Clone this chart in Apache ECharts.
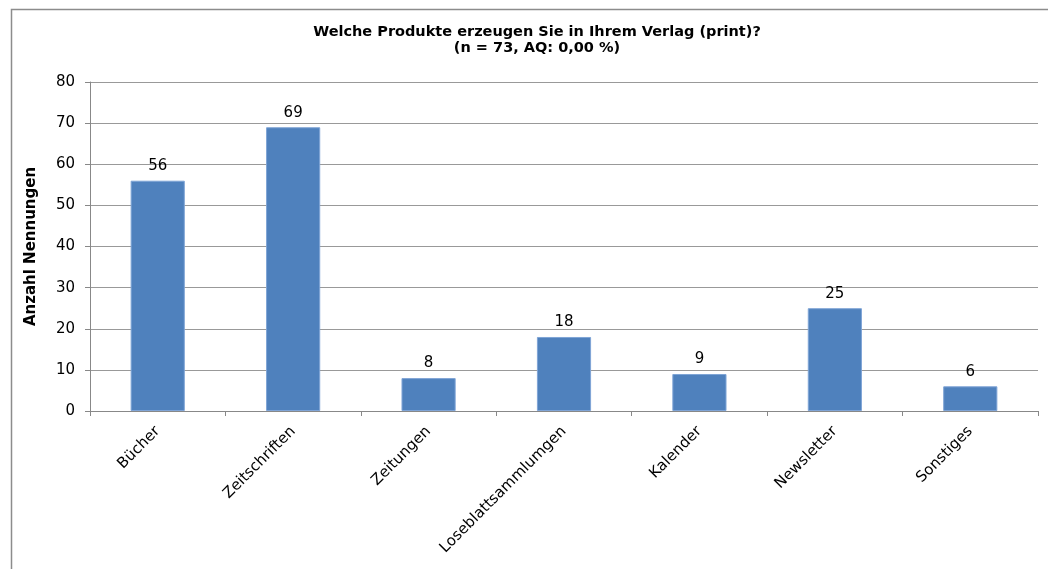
<!DOCTYPE html>
<html>
<head>
<meta charset="utf-8">
<script src="https://cdn.jsdelivr.net/npm/echarts@6/dist/echarts.min.js"></script>
<style>html,body{margin:0;padding:0;background:#fff;}#c{width:1048px;height:569px;}</style>
</head>
<body>
<div id="c"></div>
<script>
var categories = ['Bücher', 'Zeitschriften', 'Zeitungen', 'Loseblattsammlumgen', 'Kalender', 'Newsletter', 'Sonstiges'];
var values = [56, 69, 8, 18, 9, 25, 6];
var titleText = 'Welche Produkte erzeugen Sie in Ihrem Verlag (print)?\n(n = 73, AQ: 0,00 %)';
var yAxisName = 'Anzahl Nennungen';

var chart = echarts.init(document.getElementById('c'), null, {renderer: 'canvas'});
var font = 'DejaVu Sans, sans-serif';
chart.setOption({
  animation: false,
  backgroundColor: '#fff',
  graphic: [{
    type: 'rect', left: 9, top: 7, z: -1,
    shape: {width: 1200, height: 700},
    style: {fill: 'none', stroke: '#8c8c8c', lineWidth: 1.5}
  }],
  title: {
    text: titleText, left: 532, top: 19, textAlign: 'center',
    textStyle: {fontFamily: font, fontSize: 14.5, fontWeight: 'bold', color: '#000', lineHeight: 16}
  },
  grid: {left: 90, right: 10, top: 82, bottom: 158, containLabel: false},
  xAxis: {
    type: 'category', data: categories,
    axisLine: {lineStyle: {color: '#888', width: 1}},
    axisTick: {show: true, alignWithLabel: false, length: 5, lineStyle: {color: '#888'}},
    axisLabel: {rotate: 45, margin: 18, interval: 0, fontFamily: font, fontSize: 15, color: '#000'}
  },
  yAxis: {
    type: 'value', min: 0, max: 80, interval: 10,
    name: yAxisName, nameLocation: 'middle', nameGap: 51, nameRotate: 90,
    nameTextStyle: {fontFamily: font, fontSize: 15, fontWeight: 'bold', color: '#000'},
    axisLine: {show: true, lineStyle: {color: '#888', width: 1}},
    axisTick: {show: true, length: 5, inside: false, lineStyle: {color: '#888'}},
    splitLine: {show: true, lineStyle: {color: '#999', width: 1}},
    axisLabel: {fontFamily: font, fontSize: 15, color: '#000', margin: 15}
  },
  series: [{
    type: 'bar', data: values, barWidth: '40%',
    itemStyle: {color: '#4f81bd', borderColor: '#7fa4d6', borderWidth: 1},
    label: {show: true, position: 'top', distance: 7, fontFamily: font, fontSize: 15, color: '#000'}
  }]
});
</script>
</body>
</html>
